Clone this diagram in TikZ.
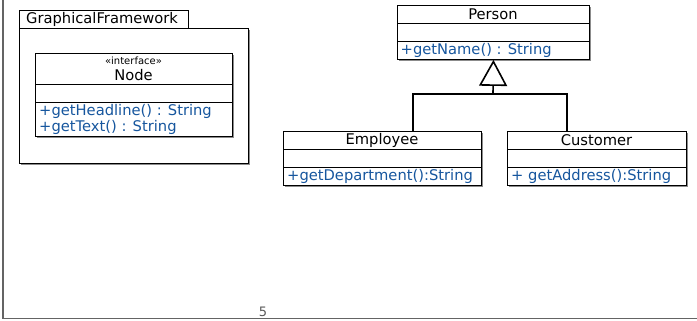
\documentclass[tikz,border=0pt]{standalone}
\usepackage{fontspec}
\setmainfont{DejaVu Sans}
\usetikzlibrary{arrows.meta,shadows}
\definecolor{opblue}{RGB}{22,86,158}
\definecolor{framegray}{RGB}{100,100,100}
\tikzset{
  umltext/.style={font=\fontsize{14.7}{17}\selectfont, inner sep=0pt},
  optext/.style={umltext, text=opblue, anchor=west},
  smalltext/.style={font=\fontsize{10}{12}\selectfont, inner sep=0pt},
  pagetext/.style={font=\fontsize{13}{15}\selectfont, inner sep=0pt, text=black!65},
  boxshadow/.style={drop shadow={shadow xshift=1.8pt, shadow yshift=-1.8pt, fill=black, opacity=0.45}},
  classbox/.style={draw, fill=white, line width=0.9pt, inner sep=0pt, anchor=north west, boxshadow},
  pkgbox/.style={draw, fill=white, line width=0.9pt, inner sep=0pt, anchor=north west},
  divider/.style={line width=0.9pt},
  inherit/.style={line width=1.6pt},
  pageframe/.style={draw=framegray, line width=1.3pt}
}
\begin{document}
\begin{tikzpicture}[x=1pt, y=-1pt]
\useasboundingbox (0,0) rectangle (697,321);

% page frame (left and bottom rule) and page number
\draw[pageframe] (3,0) -- (3,318.5) -- (697,318.5);
\node[pagetext, anchor=base] (pagenum) at (263,316.5) {5};

% package GraphicalFramework
\node[pkgbox, boxshadow, minimum width=229pt, minimum height=135pt] (pkg) at (19,28) {};
\node[pkgbox, minimum width=169pt, minimum height=18pt] (pkgtab) at (19,10) {};
\node[umltext, anchor=west] (pkgname) at (26,19.5) {GraphicalFramework};

% interface Node
\node[classbox, minimum width=197pt, minimum height=83pt] (node) at (35,53) {};
\draw[divider] (35,84) -- (232,84);
\draw[divider] (35,102) -- (232,102);
\node[smalltext] (stereo) at (133.5,61) {«interface»};
\node[umltext] (nodename) at (133.5,75) {Node};
\node[optext] (op1) at (39,111) {+getHeadline() : String};
\node[optext] (op2) at (39,127.5) {+getText() : String};

% class Person
\node[classbox, minimum width=192pt, minimum height=54pt] (person) at (397,5) {};
\draw[divider] (397,23) -- (589,23);
\draw[divider] (397,41.5) -- (589,41.5);
\node[umltext] (personname) at (493,14) {Person};
\node[optext] (op3) at (400.5,50.5) {+getName() : String};

% class Employee
\node[classbox, minimum width=198pt, minimum height=54pt] (employee) at (283,131) {};
\draw[divider] (283,149) -- (481,149);
\draw[divider] (283,167) -- (481,167);
\node[umltext] (employeename) at (382,140) {Employee};
\node[optext] (op4) at (287,176.5) {+getDepartment():String};

% class Customer
\node[classbox, minimum width=179pt, minimum height=54pt] (customer) at (507,131) {};
\draw[divider] (507,149) -- (686,149);
\draw[divider] (507,167) -- (686,167);
\node[umltext] (customername) at (596.5,140) {Customer};
\node[optext] (op5) at (511,176.5) {+ getAddress():String};

% generalization
\coordinate (join) at (493,94);
\draw[inherit] (employee.north -| 413,0) |- (join);
\draw[inherit] (customer.north -| 567,0) |- (join);
\draw[inherit, -{Triangle[open, length=26pt, width=28pt, line width=1.6pt]}] (join) -- (person.south);
\end{tikzpicture}
\end{document}
